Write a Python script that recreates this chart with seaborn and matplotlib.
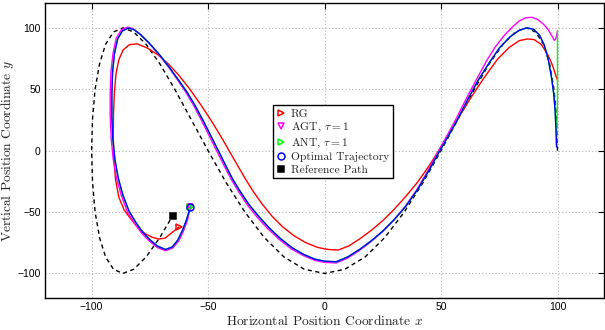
import matplotlib.pyplot as plt
import seaborn as sns
import pandas as pd
import numpy as np

# reference path (dashed)
ref_x = [100.0, 99.6, 98.5, 96.6, 94.0, 90.6, 86.6, 81.9, 76.6, 70.7, 64.3, 57.4, 50.0,
         42.3, 34.2, 25.9, 17.4, 8.7, 0.0, -8.7, -17.4, -25.9, -34.2, -42.3, -50.0,
         -57.4, -64.3, -70.7, -76.6, -81.9, -86.6, -90.6, -94.0, -96.6, -98.5, -99.6,
         -100.0, -99.6, -98.5, -96.6, -94.0, -90.6, -86.6, -81.9, -76.6, -70.7, -65.2]
ref_y = [0.0, 25.9, 50.0, 70.7, 86.6, 96.6, 100.0, 96.6, 86.6, 70.7, 50.0, 25.9, 0.0,
         -25.9, -50.0, -70.7, -86.6, -96.6, -100.0, -96.6, -86.6, -70.7, -50.0, -25.9, 0.0,
         25.9, 50.0, 70.7, 86.6, 96.6, 100.0, 96.6, 86.6, 70.7, 50.0, 25.9,
         0.0, -25.9, -50.0, -70.7, -86.6, -96.6, -100.0, -96.6, -86.6, -70.7, -53.0]

# optimal trajectory (blue)
opt_x = [99.6, 99.4, 99.0, 98.4, 97.4, 96.0, 94.3, 92.3, 89.8, 86.9, 83.5, 79.5, 75.0,
         70.5, 66.0, 61.0, 57.0, 53.0, 49.5, 45.0, 40.0, 35.0, 30.0, 25.0, 20.0, 15.0,
         10.0, 5.0, 0.0, -4.0, -9.0, -14.0, -19.0, -24.0, -28.5, -32.6, -36.3, -39.5,
         -42.6, -45.6, -48.8, -52.0, -55.5, -59.0, -62.5, -66.5, -71.0, -75.5, -79.0,
         -81.8, -84.3, -86.8, -88.8, -90.2, -91.0, -91.3, -91.3, -90.9, -90.0, -88.6,
         -86.6, -84.0, -81.0, -78.0, -75.0, -71.7, -68.3, -65.4, -63.0, -61.0, -59.2, -57.6]
opt_y = [3.0, 15.0, 32.0, 46.0, 60.0, 74.6, 86.0, 94.0, 98.8, 100.0, 98.0, 92.5, 83.5,
         71.0, 57.5, 40.0, 25.0, 11.5, 0.0, -15.5, -31.5, -45.0, -56.0, -65.5, -73.5, -80.5,
         -86.5, -90.5, -90.0, -88.5, -84.5, -79.0, -71.5, -62.5, -53.0, -43.5, -33.0, -23.0,
         -11.5, 0.0, 12.0, 24.0, 36.5, 47.5, 57.0, 67.5, 78.5, 88.0, 94.5,
         98.5, 99.8, 97.5, 91.0, 79.0, 64.0, 46.0, 28.0, 10.0, -7.0, -22.0,
         -36.0, -49.0, -58.5, -66.5, -72.5, -77.8, -80.5, -78.5, -72.8, -65.0, -56.0, -45.6]

# ANT, tau = 1 (green) - coincides with the optimal one after the first drop
ant_x = [100.0, 100.0, 99.6, 99.4, 99.0, 98.4, 97.4, 96.0, 94.3, 92.3, 89.8, 86.9, 83.5,
         79.5, 75.0, 70.5, 66.0, 61.0, 57.0, 53.0, 49.5, 45.0, 40.0, 35.0, 30.0, 25.0,
         20.0, 15.0, 10.0, 5.0, 0.0, -4.0, -9.0, -14.0, -19.0, -24.0, -28.5, -32.6,
         -36.3, -39.5, -42.6, -45.6, -48.8, -52.0, -55.5, -59.0, -62.5, -66.5, -71.0,
         -75.5, -79.0, -81.8, -84.3, -86.8, -88.8, -90.2, -91.0, -91.3, -91.3, -90.9,
         -90.0, -88.6, -86.6, -84.0, -81.0, -78.0, -75.0, -71.7, -68.3, -65.4, -63.0,
         -61.0, -59.2, -57.6]
ant_y = [97.7, 45.0, 3.0, 15.0, 32.0, 46.0, 60.0, 74.6, 86.0, 94.0, 98.8, 100.0, 98.0,
         92.5, 83.5, 71.0, 57.5, 40.0, 25.0, 11.5, 0.0, -15.5, -31.5, -45.0, -56.0, -65.5,
         -73.5, -80.5, -86.5, -90.5, -90.0, -88.5, -84.5, -79.0, -71.5, -62.5, -53.0, -43.5,
         -33.0, -23.0, -11.5, 0.0, 12.0, 24.0, 36.5, 47.5, 57.0, 67.5, 78.5,
         88.0, 94.5, 98.5, 99.8, 97.5, 91.0, 79.0, 64.0, 46.0, 28.0, 10.0,
         -7.0, -22.0, -36.0, -49.0, -58.5, -66.5, -72.5, -77.8, -80.5, -78.5, -72.8,
         -65.0, -56.0, -45.6]

# AGT, tau = 1 (magenta)
agt_x = [100.0, 99.6, 99.1, 98.6, 97.6, 96.0, 94.0, 91.5, 89.0, 86.3, 83.5, 80.5, 77.0,
         73.5, 69.8, 65.8, 60.6, 56.5, 52.5, 49.0, 44.4, 39.4, 34.4, 29.5, 24.6, 19.7,
         14.8, 9.9, 5.0, 0.0, -4.1, -9.2, -14.3, -19.4, -24.5, -29.0, -33.1, -36.8,
         -40.0, -43.2, -46.2, -49.4, -52.6, -56.1, -59.6, -63.1, -67.1, -71.6, -76.0,
         -79.5, -82.2, -84.6, -87.3, -89.4, -90.8, -91.7, -92.0, -92.0, -91.6, -90.7,
         -89.3, -87.2, -84.6, -81.5, -78.4, -75.3, -71.9, -68.3, -65.2, -62.6, -60.6,
         -58.8, -57.6]
agt_y = [97.7, 93.5, 90.3, 90.0, 93.5, 98.5, 103.0, 106.8, 108.6, 108.2, 105.5, 100.5, 93.5,
         85.0, 74.0, 60.0, 41.5, 26.0, 12.0, 0.0, -16.3, -32.4, -46.0, -57.0, -66.5, -74.5,
         -81.5, -87.5, -91.5, -91.0, -89.4, -85.4, -80.0, -72.4, -63.4, -54.0, -44.3, -33.7,
         -23.6, -12.0, -0.6, 11.6, 23.8, 36.5, 47.8, 57.6, 68.4, 79.4, 88.8,
         95.4, 99.4, 100.6, 98.3, 91.6, 79.4, 64.2, 46.2, 28.0, 10.0, -7.3,
         -22.5, -36.7, -50.0, -59.5, -67.5, -73.5, -78.8, -81.5, -79.4, -73.6, -65.6,
         -56.3, -45.6]

# RG (red)
rg_x = [100.0, 99.3, 98.3, 97.0, 95.3, 93.0, 90.0, 87.2, 83.6, 79.3, 74.3, 68.6, 62.9,
        57.2, 53.0, 49.0, 45.0, 40.0, 35.0, 30.0, 25.0, 20.0, 15.0, 10.5, 6.0, 1.5,
        -3.0, -8.0, -13.0, -18.0, -22.5, -27.0, -30.5, -34.0, -37.5, -41.0, -44.5, -48.5,
        -53.0, -58.0, -62.6, -67.0, -71.5, -76.0, -80.4, -83.8, -86.5, -88.3, -89.5,
        -90.2, -90.6, -90.7, -90.5, -89.7, -88.3, -86.0, -82.6, -79.7, -76.9, -74.0,
        -71.2, -68.5, -66.2, -62.6]
rg_y = [57.5, 61.0, 67.0, 73.5, 80.0, 86.5, 90.4, 91.0, 89.6, 84.1, 74.6, 59.7, 43.4,
        25.8, 12.5, 0.0, -12.0, -25.5, -37.0, -47.5, -57.0, -65.0, -72.0, -77.5, -80.9, -80.5,
        -78.8, -75.0, -69.5, -62.0, -53.5, -43.0, -33.5, -23.0, -11.5, 0.0, 11.5, 24.0,
        37.0, 50.5, 61.5, 70.5, 78.0, 83.5, 87.0, 86.3, 82.0, 74.0, 63.0,
        48.0, 30.0, 12.0, -5.0, -24.0, -38.0, -48.5, -57.0, -63.5, -67.7, -70.5,
        -72.0, -71.3, -67.8, -62.4]

ticks = [-100, -50, 0, 50, 100]

sns.set_theme(style="white")
plt.rcParams['font.family'] = ['cmr10', 'DejaVu Serif']
plt.rcParams['mathtext.fontset'] = 'cm'

fig, ax = plt.subplots(figsize=(6.05, 3.3), dpi=100)
fig.subplots_adjust(left=0.0744, right=0.9985, bottom=0.097, top=0.99)

lw = 1.0
sns.lineplot(x=ref_x, y=ref_y, sort=False, estimator=None, color='black',
             linewidth=lw, linestyle=(0, (3, 2.5)), ax=ax)
sns.lineplot(x=rg_x, y=rg_y, sort=False, estimator=None, color='#ff0000', linewidth=lw, ax=ax)
sns.lineplot(x=agt_x, y=agt_y, sort=False, estimator=None, color='#ff00ff', linewidth=lw, ax=ax)
sns.lineplot(x=ant_x, y=ant_y, sort=False, estimator=None, color='#00ff00', linewidth=lw, ax=ax)
sns.lineplot(x=opt_x, y=opt_y, sort=False, estimator=None, color='#0000ff', linewidth=lw, ax=ax)

# end markers (these also make the legend entries)
ms = 5
mew = 1.1
ax.plot(rg_x[-1], rg_y[-1], ls='none', marker='>', ms=ms, mew=mew, mfc='none', mec='#ff0000', label='RG')
ax.plot(agt_x[-1], agt_y[-1], ls='none', marker='v', ms=ms, mew=mew, mfc='none', mec='#ff00ff',
        label=r'AGT, $\tau = 1$')
ax.plot(ant_x[-1], ant_y[-1], ls='none', marker='>', ms=ms, mew=mew, mfc='none', mec='#00ff00',
        label=r'ANT, $\tau = 1$')
ax.plot(opt_x[-1], opt_y[-1], ls='none', marker='o', ms=ms, mew=mew, mfc='none', mec='#0000ff',
        label='Optimal Trajectory')
ax.plot(ref_x[-1], ref_y[-1], ls='none', marker='s', ms=ms, mew=mew, mfc='black', mec='black',
        label='Reference Path')

ax.set_xlim(-120, 120)
ax.set_ylim(-120, 120)
ax.set_xticks(ticks)
ax.set_yticks(ticks)
ax.set_axisbelow(True)
ax.grid(True, linestyle=(0, (1, 2)), color='#b3b3b3', linewidth=0.8)
ax.tick_params(direction='in', top=True, right=True, length=4, width=0.8,
               labelsize=7.5, colors='black', labelfontfamily='Liberation Sans', pad=3)
for s in ax.spines.values():
    s.set_color('black')
    s.set_linewidth(1.0)

ax.set_xlabel(r'Horizontal Position Coordinate $x$', fontsize=9.7, labelpad=1)
ax.set_ylabel(r'Vertical Position Coordinate $y$', fontsize=9.7)
# the label is anchored on its right edge (rotated text), so sit it ~16 px from the left
ax.yaxis.set_label_coords(-0.051, 0.5)

leg = ax.legend(loc='lower left', bbox_to_anchor=(0.407, 0.407), borderaxespad=0,
                fontsize=8.3, frameon=True, fancybox=False, framealpha=1,
                edgecolor='black', handlelength=0.8, handletextpad=0.5,
                labelspacing=0.2, borderpad=0.3)
leg.get_frame().set_linewidth(1.0)

plt.savefig('out.png', dpi=100)
